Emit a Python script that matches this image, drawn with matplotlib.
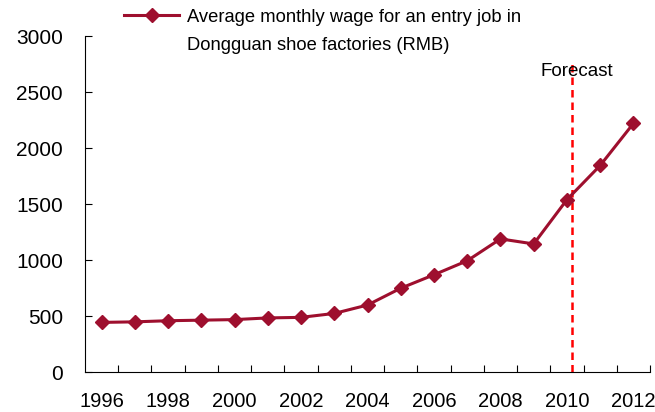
import matplotlib.pyplot as plt

plt.rcParams['font.family'] = ['Liberation Sans', 'DejaVu Sans']

# Average monthly wage for an entry job, Dongguan shoe factories (RMB)
years = [1996, 1997, 1998, 1999, 2000, 2001, 2002, 2003, 2004,
         2005, 2006, 2007, 2008, 2009, 2010, 2011, 2012]
wage = [445, 450, 460, 465, 470, 485, 490, 525, 600,
        750, 870, 995, 1190, 1145, 1540, 1845, 2220]
year_labels = [1996, 1998, 2000, 2002, 2004, 2006, 2008, 2010, 2012]
forecast_x = 2010.16
forecast_top = 2760

line_col = '#9E0F2E'

fig = plt.figure(figsize=(6.55, 4.12), dpi=100)
ax = fig.add_axes([0.1298, 0.0964, 0.8626, 0.8162])

ax.plot(years, wage, color=line_col, lw=2.2, marker='D', ms=7.5,
        mec=line_col, mfc=line_col, label='Average monthly wage for an entry job in',
        zorder=3)

# forecast marker
ax.plot([forecast_x, forecast_x], [0, forecast_top], color='#FF0000', lw=1.8,
        ls=(0, (3, 2)), zorder=2)
ax.text(forecast_x + 0.13, 2680, 'Forecast', ha='center', va='center', fontsize=13.5)

ax.set_xlim(1995.5, 2012.5)
ax.set_ylim(0, 3000)
ax.set_yticks(range(0, 3001, 500))
ax.set_xticks(year_labels)
ax.set_xticks([y + 0.5 for y in years], minor=True)
ax.tick_params(axis='x', which='major', length=0, pad=14, labelsize=14.5)
ax.tick_params(axis='x', which='minor', direction='in', length=5, width=0.8)
ax.tick_params(axis='y', direction='in', length=5, width=0.8, pad=16, labelsize=15)

for s in ['top', 'right']:
    ax.spines[s].set_visible(False)
for s in ['left', 'bottom']:
    ax.spines[s].set_linewidth(0.8)

leg = ax.legend(loc='center left', bbox_to_anchor=(124 / 655, 1 - 17 / 412),
                bbox_transform=fig.transFigure, frameon=False, fontsize=13.2,
                handlelength=3.0, handletextpad=0.45, borderpad=0, borderaxespad=0)

# second line of the legend label, aligned under the first
fig.canvas.draw()
tb = leg.get_texts()[0].get_window_extent()
fig.text(tb.x0 / 655, (tb.y0 - 28) / 412, 'Dongguan shoe factories (RMB)',
         fontsize=13.2, ha='left', va='bottom')

fig.savefig('out.png', dpi=100)
